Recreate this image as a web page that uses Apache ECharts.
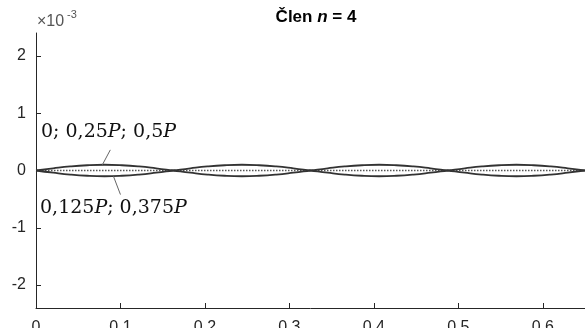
<!DOCTYPE html>
<html>
<head>
<meta charset="utf-8">
<script src="https://cdn.jsdelivr.net/npm/echarts@6/dist/echarts.min.js"></script>
<style>
  html, body { margin: 0; padding: 0; background: #fff; }
  #chart { width: 585px; height: 328px; }
</style>
</head>
<body>
<div id="chart"></div>
<script>
// x positions along the beam
var xs = [0, 0.0203, 0.0406, 0.0609, 0.0813, 0.1016, 0.1219, 0.1422, 0.1625,
    0.1828, 0.2031, 0.2234, 0.2438, 0.2641, 0.2844, 0.3047, 0.325,
    0.3453, 0.3656, 0.3859, 0.4063, 0.4266, 0.4469, 0.4672, 0.4875,
    0.5078, 0.5281, 0.5484, 0.5688, 0.5891, 0.6094, 0.6297, 0.65];
// values in units of 10^-3
var curveA = [0, 0.038, 0.071, 0.092, 0.1, 0.092, 0.071, 0.038, 0,
    -0.038, -0.071, -0.092, -0.1, -0.092, -0.071, -0.038, 0,
    0.038, 0.071, 0.092, 0.1, 0.092, 0.071, 0.038, 0,
    -0.038, -0.071, -0.092, -0.1, -0.092, -0.071, -0.038, 0];
var curveB = [0, -0.038, -0.071, -0.092, -0.1, -0.092, -0.071, -0.038, 0,
    0.038, 0.071, 0.092, 0.1, 0.092, 0.071, 0.038, 0,
    -0.038, -0.071, -0.092, -0.1, -0.092, -0.071, -0.038, 0,
    0.038, 0.071, 0.092, 0.1, 0.092, 0.071, 0.038, 0];
var curveMid = [0, 0, 0, 0, 0, 0, 0, 0, 0, 0, 0, 0, 0, 0, 0, 0, 0,
    0, 0, 0, 0, 0, 0, 0, 0, 0, 0, 0, 0, 0, 0, 0, 0];
var yTicks = [-2, -1, 0, 1, 2];

function pairs(ys) {
    return xs.map(function (x, i) { return [x, ys[i]]; });
}

var chart = echarts.init(document.getElementById('chart'));
var axisColor = '#262626';
var serif = { fontFamily: 'DejaVu Serif', fontSize: 19, fill: '#111' };
var serifIt = { fontFamily: 'DejaVu Serif', fontStyle: 'italic', fontSize: 19, fill: '#111' };
var option = {
    animation: false,
    backgroundColor: '#fff',
    title: {
        text: '{b|Člen }{i|n}{b| = 4}',
        left: 311,
        textAlign: 'center',
        top: 4,
        textStyle: {
            rich: {
                b: { fontFamily: 'Liberation Sans', fontWeight: 'bold', fontSize: 17, color: '#000' },
                i: { fontFamily: 'Liberation Sans', fontWeight: 'bold', fontStyle: 'italic', fontSize: 17, color: '#000' }
            }
        }
    },
    grid: { left: 36, right: 0, top: 33, bottom: 20, containLabel: false, outerBoundsMode: 'none' },
    xAxis: {
        type: 'value',
        min: 0,
        max: 0.65,
        interval: 0.1,
        splitLine: { show: false },
        axisLine: { show: true, onZero: false, lineStyle: { color: axisColor, width: 1 } },
        axisTick: { show: true, inside: true, length: 5, lineStyle: { color: axisColor } },
        axisLabel: {
            showMaxLabel: false,
            margin: 12,
            fontFamily: 'Liberation Sans',
            fontSize: 16,
            color: axisColor
        }
    },
    yAxis: {
        type: 'value',
        min: -2.4,
        max: 2.4,
        splitLine: { show: false },
        axisLine: { show: true, onZero: false, lineStyle: { color: axisColor, width: 1 } },
        axisTick: { show: true, inside: true, length: 5, customValues: yTicks, lineStyle: { color: axisColor } },
        axisLabel: {
            customValues: yTicks,
            margin: 10,
            fontFamily: 'Liberation Sans',
            fontSize: 16,
            color: axisColor
        }
    },
    series: [
        {
            type: 'line',
            data: pairs(curveMid),
            symbol: 'none',
            lineStyle: { color: '#555', width: 1.5, type: 'dotted' },
            z: 2
        },
        {
            type: 'line',
            data: pairs(curveA),
            symbol: 'none',
            smooth: true,
            lineStyle: { color: '#333', width: 1.8 },
            z: 3,
            markLine: {
                silent: true,
                symbol: 'none',
                label: { show: false },
                lineStyle: { color: '#666', width: 1, type: 'solid' },
                data: [
                    [{ coord: [0.088, 0.36] }, { coord: [0.0786, 0.1] }],
                    [{ coord: [0.0917, -0.1] }, { coord: [0.1, -0.42] }]
                ]
            }
        },
        {
            type: 'line',
            data: pairs(curveB),
            symbol: 'none',
            smooth: true,
            lineStyle: { color: '#333', width: 1.8 },
            z: 3
        }
    ],
    graphic: [
        {
            type: 'text', left: 37, top: 14,
            style: { text: '×10', fontFamily: 'Liberation Sans', fontSize: 16, fill: '#555' }
        },
        {
            type: 'text', left: 67, top: 9,
            style: { text: '-3', fontFamily: 'Liberation Sans', fontSize: 11, fill: '#555' }
        },
        {
            type: 'text', left: 41, top: 123,
            style: { text: '{r|0; 0,25}{i|P}{r|; 0,5}{i|P}', rich: { r: serif, i: serifIt } }
        },
        {
            type: 'text', left: 40, top: 199,
            style: { text: '{r|0,125}{i|P}{r|; 0,375}{i|P}', rich: { r: serif, i: serifIt } }
        }
    ]
};
chart.setOption(option);
</script>
</body>
</html>
